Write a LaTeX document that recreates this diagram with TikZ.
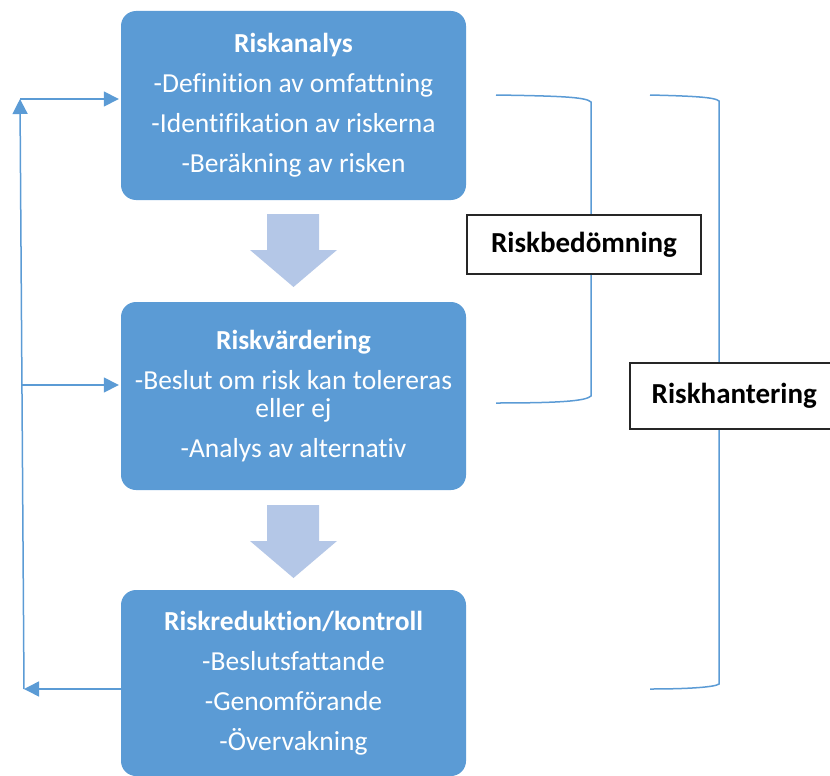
\documentclass[tikz,border=0pt]{standalone}
\usepackage{fontspec}
\setmainfont{Carlito}[Ligatures=NoCommon]
\usetikzlibrary{arrows.meta, positioning}
\definecolor{boxblue}{HTML}{5B9BD5}
\definecolor{paleblue}{HTML}{B4C7E7}
\definecolor{framegray}{HTML}{262626}

\begin{document}
\begin{tikzpicture}[
    x=1pt, y=-1pt,
    stepbox/.style={draw=none, fill=boxblue, rounded corners=15pt, minimum width=345pt,
        text=white, align=center, font=\fontsize{27.5}{40}\selectfont},
    labelbox/.style={draw=framegray, line width=1.6pt, fill=white, font=\fontsize{29}{32}\selectfont\bfseries},
    loop/.style={draw=boxblue, line width=1.5pt},
    arrow/.style={loop, -{Triangle[length=15pt, width=15pt]}},
    bracket/.style={draw=boxblue, line width=1.5pt},
    bigarrow/.style={fill=paleblue}
]
    \useasboundingbox (0,0) rectangle (830,776);

    % the three steps
    \node[stepbox, minimum height=189pt] (analys) at (293.5,105.5)
        {\textbf{Riskanalys}\\-Definition av omfattning\\-Identifikation av riskerna\\-Beräkning av risken};
    \node[stepbox, minimum height=188pt] (vardering) at (293.5,396)
        {\textbf{Riskvärdering}\\-Beslut om risk kan tolereras\\[-12pt]eller ej\\-Analys av alternativ};
    \node[stepbox, minimum height=186pt] (reduktion) at (293.5,683)
        {\textbf{Riskreduktion/kontroll}\\-Beslutsfattande\\-Genomförande\\-Övervakning};

    % block arrows between the steps
    \foreach \ytop in {214, 505} {
        \fill[bigarrow] (267,\ytop) -- (319,\ytop) -- (319,\ytop+36) -- (337,\ytop+36)
            -- (293.5,\ytop+73) -- (250,\ytop+36) -- (267,\ytop+36) -- cycle;
    }

    % feedback loop
    \coordinate (back) at (24,689);
    \coordinate (top) at (20,99);
    \coordinate (mid) at (22,385);
    \draw[arrow] (reduktion.west |- back) -- (back);
    \draw[arrow] (back) -- (top);
    \draw[arrow] (top) -- ([xshift=-2pt]analys.west |- top);
    \draw[arrow] (mid) -- ([xshift=-2pt]vardering.west |- mid);

    % brackets
    \draw[bracket] (496,95) .. controls (560,96) and (586,97) .. (591,102) -- (591,396)
        .. controls (586,401) and (560,403) .. (496,403);
    \draw[bracket] (650,95) .. controls (690,96) and (715,97) .. (719,101) -- (719,684)
        .. controls (715,687) and (690,689) .. (650,689);

    \node[labelbox, minimum width=234pt, minimum height=59pt] (bedomning) at (584,244.5) {Riskbedömning};
    \node[labelbox, minimum width=209pt, minimum height=66pt, anchor=west] (hantering) at (629,396) {Riskhantering};
\end{tikzpicture}
\end{document}
